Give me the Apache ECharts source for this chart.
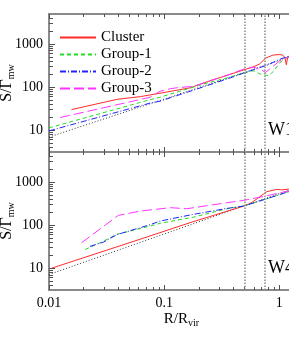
<!DOCTYPE html>
<html><head><meta charset="utf-8">
<script src="https://cdn.jsdelivr.net/npm/echarts@6/dist/echarts.min.js"></script>
<style>html,body{margin:0;padding:0;background:#fff}#c{width:289px;height:338px}</style>
</head><body><div id="c"></div>
<script>
// ---- tick labels / categories ----
const xMajorTicks = [0.01, 0.1, 1];
const yMajorTicks = [10, 100, 1000];
const seriesNames = ['Cluster', 'Group-1', 'Group-2', 'Group-3'];
const panelLabels = ['W1', 'W4'];
const refLines = [0.5, 0.75];

// ---- panel W1 (R/Rvir, S/Gamma_mw) ----
const w1Cluster = [[0.0157,30],[0.039,52],[0.062,60],[0.092,72],[0.168,96],[0.25,140],[0.367,195],[0.49,250],[0.6,300],[0.67,340],[0.76,470],[0.88,555],[1.0,570],[1.07,555],[1.12,480],[1.15,330],[1.18,480],[1.3,570]];
const w1Group1  = [[0.01,11.3],[0.0755,51],[0.092,58],[0.22,118],[0.367,168],[0.49,215],[0.6,240],[0.67,205],[0.76,190],[0.81,184],[0.9,240],[1.0,360],[1.2,520],[1.3,560]];
const w1Group2  = [[0.01,9.6],[0.0755,42.5],[0.092,47],[0.367,160],[0.49,212],[0.8,330],[1.0,440],[1.3,560]];
const w1Group3  = [[0.0125,19.6],[0.0755,58],[0.092,80],[0.112,91],[0.13,97],[0.18,104],[0.25,140],[0.367,195],[0.49,262],[0.6,290],[0.7,250],[0.76,219],[0.82,260],[1.0,400],[1.2,500],[1.3,540]];
const w1Ref     = [[0.01,6.9],[0.0755,41],[0.49,215],[1.3,540]];

// ---- panel W4 ----
const w4Cluster = [[0.0106,10],[0.062,47],[0.168,114],[0.49,277],[0.56,320],[0.65,420],[0.78,600],[0.95,676],[1.05,660],[1.3,700]];
const w4Group1  = [[0.0206,27],[0.0296,42],[0.0388,61],[0.0755,95],[0.092,110],[0.18,153],[0.35,240],[0.49,277],[0.8,420],[1.3,640]];
const w4Group2  = [[0.0227,32],[0.0296,40],[0.0388,60],[0.0755,102],[0.092,124],[0.18,178],[0.35,244],[0.49,277],[0.8,420],[1.3,640]];
const w4Group3  = [[0.0192,39],[0.04,168],[0.062,212],[0.113,254],[0.157,240],[0.35,331],[0.49,375],[0.75,470],[1.0,560],[1.3,650]];
const w4Ref     = [[0.01,7.1],[0.49,277],[1.3,690]];

const panels = [
  [w1Cluster, w1Group1, w1Group2, w1Group3, w1Ref],
  [w4Cluster, w4Group1, w4Group2, w4Group3, w4Ref]
];

// minor tick positions (axis decoration)
const xMinor = [], yMinor = [];
[0.01, 0.1, 1].forEach(d => { for (let k = 2; k <= 9; k++) { const v = +(d * k).toPrecision(3); if (v < 2) xMinor.push(v); } });
[1, 10, 100, 1000].forEach(d => { for (let k = 2; k <= 9; k++) { const v = d * k; if (v > 3.1 && v < 5000) yMinor.push(v); } });

const FONT = 'Liberation Serif';
const AX = '#8a8a8a', TK = '#505050';
const styles = [
  {color:'#ff2a2a', type:'solid'},
  {color:'#22dd22', type:[4,3]},
  {color:'#2222ff', type:[6,2,1,2]},
  {color:'#ff33ff', type:[10,4]},
  {color:'#333333', type:[1,2]}
];
const GRID_H = 138, GRID_W = 265;
const grids = [
  {left:49, top:14, width:GRID_W, height:GRID_H, containLabel:false, outerBoundsMode:'none'},
  {left:49, top:152, width:GRID_W, height:GRID_H, containLabel:false, outerBoundsMode:'none'}
];
const numFmt = v => String(parseFloat((+v).toPrecision(2)));

const xAxis = [], yAxis = [];
grids.forEach((g, gi) => {
  const base = {type:'log', logBase:10, min:0.01, max:2, gridIndex:gi, splitLine:{show:false}};
  xAxis.push({...base, position:'bottom',
    axisLine:{show:true, onZero:false, lineStyle:{color:AX, width:2}},
    axisTick:{show:true, inside:true, length:5, customValues:xMajorTicks, lineStyle:{color:TK}},
    axisLabel:{show: gi===1, customValues:xMajorTicks, margin:6, color:'#000', fontFamily:FONT, fontSize:14, formatter:numFmt},
    name: gi===1 ? 'R/R{s|vir}' : '', nameLocation:'middle', nameGap:20, nameMoveOverlap:false,
    nameTextStyle:{color:'#000', fontFamily:FONT, fontSize:15, rich:{s:{fontFamily:FONT, fontSize:10, color:'#000', padding:[8,0,0,0]}}}
  });
  xAxis.push({...base, position:'bottom', axisLine:{show:false, onZero:false},
    axisTick:{show:true, inside:true, length:3, customValues:xMinor, lineStyle:{color:TK}}, axisLabel:{show:false}});
  xAxis.push({...base, position:'top', axisLine:{show:true, onZero:false, lineStyle:{color:AX, width:2}},
    axisTick:{show:true, inside:true, length:5, customValues:xMajorTicks, lineStyle:{color:TK}}, axisLabel:{show:false}});
  xAxis.push({...base, position:'top', axisLine:{show:false, onZero:false},
    axisTick:{show:true, inside:true, length:3, customValues:xMinor, lineStyle:{color:TK}}, axisLabel:{show:false}});

  const ybase = {type:'log', logBase:10, min:3.1, max:5000, gridIndex:gi, position:'left', splitLine:{show:false}};
  yAxis.push({...ybase,
    axisLine:{show:true, onZero:false, lineStyle:{color:AX, width:2}},
    axisTick:{show:true, inside:true, length:6, customValues:yMajorTicks, lineStyle:{color:TK}},
    axisLabel:{show:true, customValues:yMajorTicks, margin:6, color:'#000', fontFamily:FONT, fontSize:14, formatter:numFmt},
    name:'S/Γ{s|mw}', nameLocation:'middle', nameGap:33, nameRotate:90, nameMoveOverlap:false,
    nameTextStyle:{color:'#000', fontFamily:FONT, fontSize:16, rich:{s:{fontFamily:FONT, fontSize:10, color:'#000', padding:[8,0,0,0]}}}
  });
  yAxis.push({...ybase, axisLine:{show:false, onZero:false},
    axisTick:{show:true, inside:true, length:4, customValues:yMinor, lineStyle:{color:TK}}, axisLabel:{show:false}});
});

const series = [];
panels.forEach((arrs, gi) => {
  arrs.forEach((d, si) => {
    const s = {
      type:'line', name: si < 4 ? seriesNames[si] : 'ref',
      xAxisIndex: gi*4, yAxisIndex: gi*2, data: d,
      showSymbol:false, symbol:'none', smooth:false, animation:false,
      lineStyle:{color:styles[si].color, type:styles[si].type, width:1},
      itemStyle:{color:styles[si].color}, z: si===4 ? 2 : 3
    };
    if (si === 4) {
      s.markLine = {silent:true, symbol:'none', label:{show:false},
        lineStyle:{color:'#8a8a8a', type:[1.5,1.5], width:1.5},
        data: refLines.map(v => ({xAxis:v}))};
    }
    series.push(s);
  });
});

const chart = echarts.init(document.getElementById('c'), null, {renderer:'canvas'});
chart.setOption({
  animation:false,
  backgroundColor:'#fff',
  grid: grids,
  xAxis, yAxis, series,
  legend:{
    data: seriesNames, orient:'vertical', left:54, top:25,
    itemWidth:36, itemHeight:10, itemGap:2,
    itemStyle:{opacity:0},
    textStyle:{fontFamily:FONT, fontSize:15, color:'#000', lineHeight:11}
  },
  graphic: panelLabels.map((t, i) => ({
    type:'text', left:268, top: i===0 ? 121 : 259,
    style:{text:t, font:'18px "Liberation Serif"', fill:'#000'}
  }))
});
</script></body></html>
